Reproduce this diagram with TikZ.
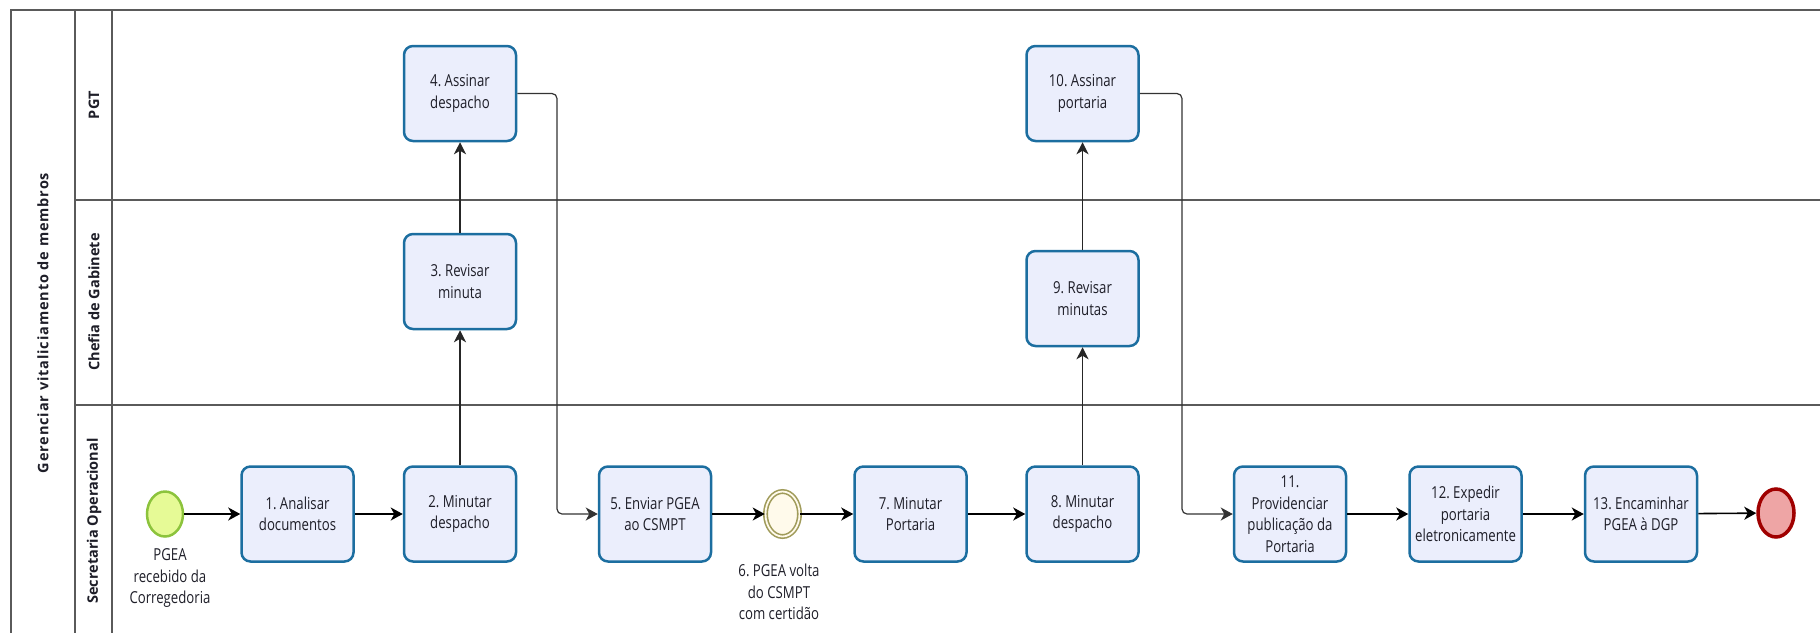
\documentclass[tikz,border=0pt]{standalone}
\usepackage{fontspec}
\setmainfont{Open Sans}[FakeStretch=0.8]
\newfontfamily\lanefont{Open Sans}
\newfontfamily\poolfont{Open Sans}[LetterSpace=6]
\usetikzlibrary{arrows.meta,shapes.geometric}
\definecolor{boxfill}{RGB}{235,238,252}
\definecolor{boxline}{RGB}{28,110,160}
\definecolor{startfill}{RGB}{230,250,150}
\definecolor{startline}{RGB}{140,195,60}
\definecolor{midfill}{RGB}{255,250,235}
\definecolor{midline}{RGB}{160,155,90}
\definecolor{endfill}{RGB}{238,165,165}
\definecolor{endline}{RGB}{160,0,0}
\definecolor{laneline}{RGB}{90,90,90}
\definecolor{txt}{RGB}{30,30,40}
\frenchspacing
\begin{document}
\begin{tikzpicture}[x=1pt,y=-1pt,
  task/.style={rectangle,rounded corners=9pt,draw=boxline,fill=boxfill,line width=2.5pt,
    minimum width=112pt,minimum height=95pt,align=center,inner sep=2pt,
    font=\fontsize{16.5}{21.5}\selectfont,text=txt},
  startev/.style={ellipse,draw=startline,fill=startfill,line width=2.5pt,minimum width=36pt,minimum height=45pt,inner sep=0pt},
  midev/.style={ellipse,draw=midline,double=midfill,double distance=1.8pt,line width=1.6pt,fill=midfill,minimum width=34pt,minimum height=45pt,inner sep=0pt},
  endev/.style={ellipse,draw=endline,fill=endfill,line width=3.5pt,minimum width=36pt,minimum height=48pt,inner sep=0pt},
  evlabel/.style={align=center,font=\fontsize{16.5}{21.5}\selectfont,text=txt,inner sep=0pt},
  lanelabel/.style={rotate=90,font=\lanefont\bfseries\fontsize{14.5}{16}\selectfont,text=txt},
  poollabel/.style={rotate=90,font=\poolfont\bfseries\fontsize{14.5}{16}\selectfont,text=txt},
  flow/.style={-{Stealth[length=12pt,width=13pt,inset=3.5pt]},line width=1.6pt,black},
  upflow/.style={-{Stealth[length=12pt,width=12pt,inset=3.5pt]},line width=1.2pt,black!85},
  detour/.style={-{Stealth[length=12pt,width=13pt,inset=3.5pt]},line width=1.2pt,black!80,rounded corners=5pt},
  lane/.style={laneline,line width=1.5pt}
]
\useasboundingbox (0,0) rectangle (1820,633);
% pool and lanes
\draw[lane,line width=2pt] (1820,10) -- (11,10) -- (11,633);
\draw[lane] (75,10) -- (75,633);
\draw[lane] (112,10) -- (112,633);
\draw[lane] (75,200) -- (1820,200);
\draw[lane] (75,405) -- (1820,405);
\node[poollabel] (pool) at (43,323) {Gerenciar vitaliciamento de membros};
\node[lanelabel] (lpgt) at (94,105) {PGT};
\node[lanelabel] (lchefia) at (94,302) {Chefia de Gabinete};
\node[lanelabel] (lsec) at (94,521) {Secretaria Operacional};
% events
\node[startev] (start) at (165,514) {};
\node[evlabel] (startlbl) at (170,578) {PGEA\\recebido da\\Corregedoria};
\node[midev] (e6) at (782.5,514) {};
\node[evlabel] (e6lbl) at (779,592) {6. PGEA volta\\do CSMPT\\com certidão};
\node[endev] (end) at (1776,513) {};
% tasks
\node[task] (t1) at (297.5,514) {1. Analisar\\documentos};
\node[task] (t2) at (460,514) {2. Minutar\\despacho};
\node[task] (t3) at (460,281.5) {3. Revisar\\minuta};
\node[task] (t4) at (460,93.5) {4. Assinar\\despacho};
\node[task] (t5) at (655,514) {5. Enviar PGEA\\ao CSMPT};
\node[task] (t7) at (910.5,514) {7. Minutar\\Portaria};
\node[task] (t8) at (1082.5,514) {8. Minutar\\despacho};
\node[task] (t9) at (1082.5,298.5) {9. Revisar\\minutas};
\node[task] (t10) at (1082.5,93.5) {10. Assinar\\portaria};
\node[task] (t11) at (1290,514) {11.\\Providenciar\\publicação da\\Portaria};
\node[task] (t12) at (1465.5,514) {12. Expedir\\portaria\\eletronicamente};
\node[task] (t13) at (1641,514) {13. Encaminhar\\PGEA à DGP};
% connectors
\coordinate (j45) at (557,514);
\coordinate (j1011) at (1182,514);
\draw[flow] (start) -- (t1);
\draw[flow] (t1) -- (t2);
\draw[upflow] (t2) -- (t3);
\draw[upflow] (t3) -- (t4);
\draw[detour] (t4.east) -| (j45) -- (t5.west);
\draw[flow] (t5) -- (e6);
\draw[flow] (e6) -- (t7);
\draw[flow] (t7) -- (t8);
\draw[upflow] (t8) -- (t9);
\draw[upflow] (t9) -- (t10);
\draw[detour] (t10.east) -| (j1011) -- (t11.west);
\draw[flow] (t11) -- (t12);
\draw[flow] (t12) -- (t13);
\draw[flow] (t13) -- (end);
\end{tikzpicture}
\end{document}
